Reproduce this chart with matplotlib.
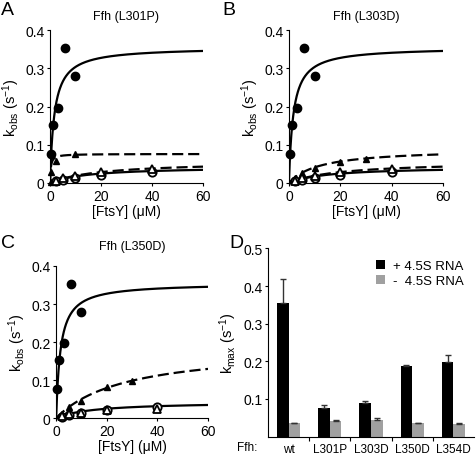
import numpy as np
import matplotlib
matplotlib.use("Agg")
import matplotlib.pyplot as plt

plt.rcParams['font.family'] = ['Liberation Sans', 'DejaVu Sans']
plt.rcParams['mathtext.fontset'] = 'custom'
plt.rcParams['mathtext.rm'] = 'Liberation Sans'
plt.rcParams['mathtext.it'] = 'Liberation Sans'

# --- panel A/B/C data (kobs vs [FtsY]) ---
# wt Ffh, + 4.5S RNA (filled circles), same in all three panels
wt_x = [0.5, 1.25, 3, 6, 10]
wt_y = [0.077, 0.152, 0.197, 0.353, 0.28]
wt_fit = (0.355, 1.7)          # kmax, Km

# wt Ffh, - 4.5S RNA (open circles)
wtm_x = [2.5, 5, 10, 20, 40]
wtm_y = [0.004, 0.009, 0.014, 0.022, 0.029]
wtm_fit = (0.043, 15)

# mutant + RNA (filled triangles)
A_p_x = [0.25, 0.5, 2.5, 10]
A_p_y = [0.003, 0.03, 0.058, 0.077]
A_p_fit = (0.076, 0.3)
B_p_x = [2.5, 5, 10, 20, 30]
B_p_y = [0.012, 0.027, 0.04, 0.055, 0.063]
B_p_fit = (0.09, 12)
C_p_x = [2.5, 5, 10, 20, 30]
C_p_y = [0.012, 0.028, 0.045, 0.081, 0.098]
C_p_fit = (0.189, 27.7)

# mutant - RNA (open triangles)
mut_m_x = [2.5, 5, 10, 20, 40]
A_m_y = [0.005, 0.012, 0.018, 0.028, 0.037]
B_m_y = [0.005, 0.012, 0.018, 0.028, 0.037]
C_m_y = [0.005, 0.010, 0.013, 0.020, 0.025]
mut_m_fit = (0.057, 20)

# --- panel D data ---
variants = ['wt', 'L301P', 'L303D', 'L350D', 'L354D']
kmax_plus = [0.354, 0.077, 0.088, 0.187, 0.198]
err_plus = [0.064, 0.008, 0.007, 0.003, 0.020]
kmax_minus = [0.035, 0.041, 0.045, 0.035, 0.033]
err_minus = [0.002, 0.003, 0.003, 0.002, 0.004]


def mm(p, x):
    return p[0] * x / (p[1] + x)


fig = plt.figure(figsize=(4.76, 4.56), dpi=100)
xs = np.linspace(0, 60, 400)
dash = (5, 2.2)


def kobs_panel(rect, title, p_x, p_y, p_fit, m_y, m_dashed, tpad):
    ax = fig.add_axes(rect)
    ax.plot(xs, mm(wt_fit, xs), 'k-', lw=1.6)
    ax.plot(xs, mm(p_fit, xs), 'k', lw=1.6, dashes=dash)
    ax.plot(xs, mm(wtm_fit, xs), 'k-', lw=1.6)
    if m_dashed:
        ax.plot(xs, mm(mut_m_fit, xs), 'k', lw=1.6, dashes=dash)
    ax.plot(wt_x, wt_y, 'o', color='k', ms=6, clip_on=False, zorder=5)
    ax.plot(p_x, p_y, '^', color='k', ms=5, clip_on=False, zorder=5)
    ax.plot(wtm_x, wtm_y, 'o', mfc='white', mec='k', mew=1.3, ms=6, clip_on=False, zorder=5)
    ax.plot(mut_m_x, m_y, '^', mfc='white', mec='k', mew=1.3, ms=5.5, clip_on=False, zorder=6)
    ax.set_xlim(0, 60)
    ax.set_ylim(0, 0.4)
    ax.set_xticks([0, 20, 40, 60])
    ax.set_yticks([0, 0.1, 0.2, 0.3, 0.4])
    ax.set_yticklabels(['0', '0.1', '0.2', '0.3', '0.4'])
    ax.spines['top'].set_visible(False)
    ax.spines['right'].set_visible(False)
    ax.tick_params(labelsize=10, length=2.5, width=0.8, pad=1.5)
    ax.set_xlabel('[FtsY] (\u03bcM)', fontsize=10, labelpad=1)
    ax.set_ylabel('k$_{\\rm obs}$ (s$^{-1}$)', fontsize=10.5, labelpad=2)
    ax.set_title(title, fontsize=9, pad=tpad)
    return ax


kobs_panel([0.105, 0.5965, 0.3215, 0.3355], 'Ffh (L301P)', A_p_x, A_p_y, A_p_fit, A_m_y, True, 8)
kobs_panel([0.607, 0.5965, 0.324, 0.3355], 'Ffh (L303D)', B_p_x, B_p_y, B_p_fit, B_m_y, True, 8)
kobs_panel([0.118, 0.081, 0.319, 0.3335], 'Ffh (L350D)', C_p_x, C_p_y, C_p_fit, C_m_y, False, 12)

# panel D
axd = fig.add_axes([0.563, 0.0405, 0.433, 0.4125])
pos = np.arange(len(variants))
w = 0.28
axd.bar(pos - w / 2, kmax_plus, w, color='black', label='+ 4.5S RNA')
axd.bar(pos + w / 2, kmax_minus, w, color='#a0a0a0', label='-  4.5S RNA')
axd.errorbar(pos - w / 2, kmax_plus, yerr=[np.zeros(5), err_plus], fmt='none',
             ecolor='#333333', elinewidth=1, capsize=2.5, capthick=1)
axd.errorbar(pos + w / 2, kmax_minus, yerr=[np.zeros(5), err_minus], fmt='none',
             ecolor='#333333', elinewidth=1, capsize=2.5, capthick=1)
axd.set_xlim(-0.5, len(variants) - 0.5)
axd.set_ylim(0, 0.5)
axd.set_yticks([0.1, 0.2, 0.3, 0.4, 0.5])
axd.set_xticks(pos)
axd.set_xticklabels(variants)
axd.set_xticks(np.arange(0.5, len(variants) - 0.5), minor=True)
axd.tick_params(axis='x', which='major', length=0, labelsize=8.5, pad=5)
axd.tick_params(axis='x', which='minor', length=3, width=0.8)
axd.tick_params(axis='y', labelsize=10, length=2.5, width=0.8, pad=1.5)
axd.spines['top'].set_visible(False)
axd.spines['right'].set_visible(False)
axd.set_ylabel('k$_{\\rm max}$ (s$^{-1}$)', fontsize=10.5, labelpad=3)
axd.legend(loc='upper right', bbox_to_anchor=(0.95, 0.94), frameon=False, fontsize=9.5,
           handlelength=0.7, handleheight=0.7, handletextpad=0.6, labelspacing=0.25,
           borderpad=0, borderaxespad=0)
fig.text(0.52, 0.017, 'Ffh:', fontsize=8.5, ha='center', va='center')

# panel letters
fig.text(0.003, 0.995, 'A', fontsize=14, va='top')
fig.text(0.468, 0.995, 'B', fontsize=14, va='top')
fig.text(0.003, 0.484, 'C', fontsize=14, va='top')
fig.text(0.481, 0.484, 'D', fontsize=14, va='top')

fig.savefig('out.png', dpi=100)
